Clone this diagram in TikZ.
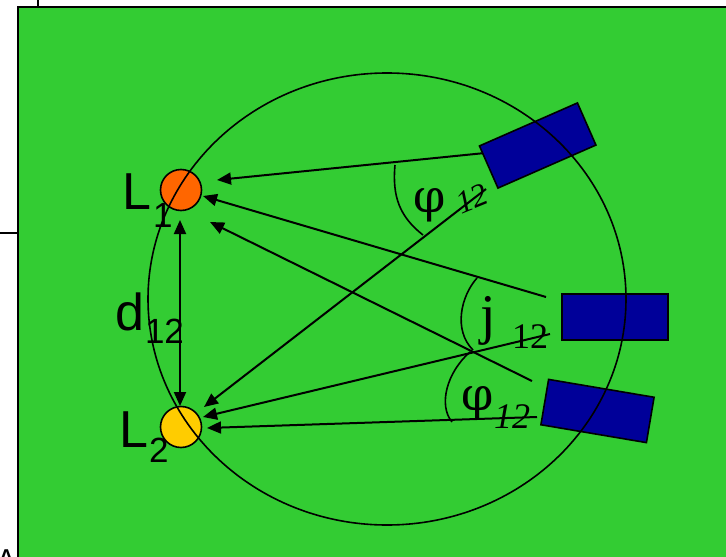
\documentclass[tikz,border=0pt]{standalone}
\usepackage{fontspec}
\setmainfont{Liberation Serif}
\setsansfont{Liberation Sans}
\newfontfamily\phifont{DejaVu Serif}
\usetikzlibrary{arrows.meta}
\definecolor{bggreen}{HTML}{33CC33}
\definecolor{navy}{HTML}{000099}
\definecolor{lorange}{HTML}{FF6600}
\definecolor{lyellow}{HTML}{FFCC00}
\newcommand{\fsz}[1]{\fontsize{#1}{#1}\selectfont}
\begin{document}
\begin{tikzpicture}[x=1pt,y=-1pt,
  lab/.style={inner sep=0pt, outer sep=0pt, anchor=base west},
  sanslab/.style={lab, font=\sffamily\fsz{52}},
  sanssub/.style={lab, font=\sffamily\fsz{35}},
  ray/.style={line width=2pt, -{Triangle[length=14pt,width=12pt]}},
  anglemark/.style={line width=1.6pt},
  lamp/.style={circle, draw, line width=1.6pt, minimum size=41pt, inner sep=0pt},
  sensor/.style={draw, fill=navy, line width=1.6pt, minimum width=107pt, minimum height=46pt, inner sep=0pt}]
\useasboundingbox (0,0) rectangle (726,557);
% background frame
\draw[line width=2pt, fill=bggreen] (18,7) rectangle (740,570);
\draw[line width=2pt] (38,-2) -- (38,7);
\draw[line width=2pt] (-2,233) -- (18,233);
\node[lab, font=\sffamily\bfseries\fsz{20}] (Alab) at (-1,563) {A};
% labels
\node[sanslab] (L1lab) at (122,209) {L};
\node[sanssub] (L1sub) at (153,227) {1};
\node[sanslab] (L2lab) at (119,447) {L};
\node[sanssub] (L2sub) at (149,462) {2};
\node[sanslab] (dlab) at (115,330) {d};
\node[sanssub] (dsub) at (145,343) {12};
\node[lab, font=\phifont\fsz{46}] (phiA) at (413,212) {φ};
\node[inner sep=0pt, font=\itshape\fsz{32}, rotate=22] (phiAsub) at (472,199) {12};
\node[lab, font=\fsz{56}] (jlab) at (480,333) {j};
\node[lab, font=\fsz{36}] (jsub) at (512,348) {12};
\node[lab, font=\phifont\fsz{46}] (phiB) at (461,410) {φ};
\node[lab, font=\itshape\fsz{36}] (phiBsub) at (494,428) {12};
% ray end points
\coordinate (s1) at (485,153); \coordinate (e1) at (217,180);
\coordinate (s2) at (546,297); \coordinate (e2) at (203,196);
\coordinate (s3) at (532,381); \coordinate (e3) at (210,222);
\coordinate (s4) at (486,189); \coordinate (e4) at (204,407);
\coordinate (s5) at (550,334); \coordinate (e5) at (203,417);
\coordinate (s6) at (537,417); \coordinate (e6) at (207,428);
\coordinate (dtop) at (180,220); \coordinate (dbot) at (180,406);
\draw[ray] (s1) -- (e1);
\draw[ray] (s2) -- (e2);
\draw[ray] (s3) -- (e3);
\draw[ray] (s4) -- (e4);
\draw[ray] (s5) -- (e5);
\draw[ray] (s6) -- (e6);
\draw[line width=2pt, {Triangle[length=14pt,width=12pt]}-{Triangle[length=14pt,width=12pt]}] (dtop) -- (dbot);
% angle marks
\coordinate (ua) at (395,165); \coordinate (ub) at (423,235);
\coordinate (ma) at (477,278); \coordinate (mb) at (473,350);
\coordinate (la) at (470,352); \coordinate (lb) at (452,422);
\draw[anglemark] (ua) .. controls (392,197) and (400,217) .. (ub);
\draw[anglemark] (ma) .. controls (461,296) and (453,330) .. (mb);
\draw[anglemark] (la) .. controls (447,372) and (438,405) .. (lb);
% lamps
\node[lamp, fill=lorange] (L1) at (181,190) {};
\node[lamp, fill=lyellow] (L2) at (181,427) {};
% sensors
\node[sensor, rotate=23.7] (R1) at (537.7,145.5) {};
\node[sensor, minimum width=106pt] (R2) at (615,317) {};
\node[sensor, rotate=-9.6] (R3) at (597.5,411) {};
% big circle
\draw[line width=1.6pt] (387,299) ellipse [x radius=239pt, y radius=226pt];
\end{tikzpicture}
\end{document}
